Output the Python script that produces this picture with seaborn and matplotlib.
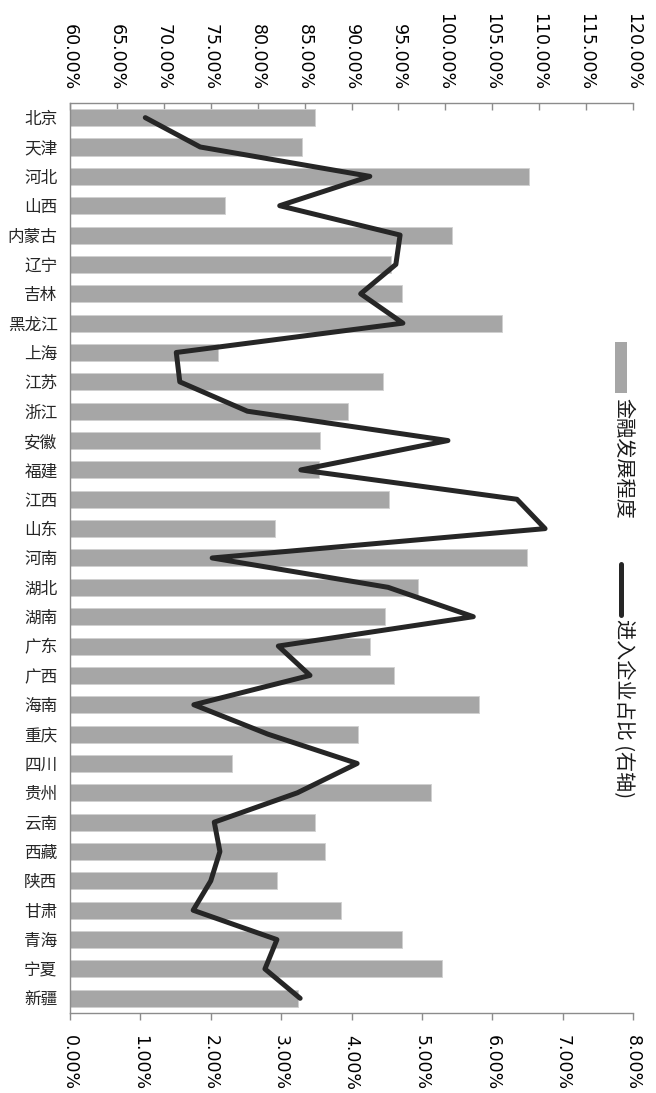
import numpy as np
import pandas as pd
import matplotlib
matplotlib.use("Agg")
import matplotlib.pyplot as plt
import seaborn as sns
from matplotlib.ticker import PercentFormatter, MultipleLocator
from matplotlib.patches import Rectangle
from matplotlib.lines import Line2D

# Provinces, top to bottom
provinces = ["北京", "天津", "河北", "山西", "内蒙古", "辽宁", "吉林", "黑龙江",
             "上海", "江苏", "浙江", "安徽", "福建", "江西", "山东", "河南",
             "湖北", "湖南", "广东", "广西", "海南", "重庆", "四川", "贵州",
             "云南", "西藏", "陕西", "甘肃", "青海", "宁夏", "新疆"]

# Financial development level (%), primary axis (top)
finance_level = [86.1, 84.7, 108.9, 76.5, 100.7, 94.2, 95.4, 106.0,
                 75.8, 93.4, 89.6, 86.6, 86.5, 94.0, 81.8, 108.7,
                 97.1, 93.6, 92.0, 94.5, 103.6, 90.7, 77.3, 98.5,
                 86.1, 87.2, 82.1, 88.9, 95.4, 99.6, 84.3]

# Share of entering firms (%), secondary axis (bottom)
entry_share = [1.07, 1.85, 4.26, 2.98, 4.69, 4.63, 4.13, 4.73,
               1.51, 1.56, 2.52, 5.37, 3.28, 6.35, 6.75, 2.02,
               4.52, 5.73, 2.96, 3.41, 1.76, 2.81, 4.08, 3.23,
               2.05, 2.13, 2.00, 1.75, 2.94, 2.77, 3.27]

legend_labels = ["金融发展程度", "进入企业占比 (右轴)"]

df = pd.DataFrame({"province": provinces,
                   "finance": finance_level,
                   "entry": entry_share,
                   "pos": np.arange(len(provinces))})

sns.set_theme(style="white")
plt.rcParams["font.family"] = ["DejaVu Sans", "Noto Sans CJK SC"]

BAR_COLOR = "#a6a6a6"
LINE_COLOR = "#262626"
AXIS_COLOR = "#8c8c8c"
CJK = ["Noto Sans CJK SC", "DejaVu Sans"]

fig = plt.figure(figsize=(6.56, 10.93), dpi=100)
ax = fig.add_axes([0.1067, 0.0732, 0.8583, 0.8326])

# bars on the primary (top) axis
sns.barplot(data=df, x="finance", y="province", orient="h", color=BAR_COLOR,
            saturation=1, width=0.58, edgecolor="#d0d0d0", linewidth=0.6, ax=ax)
ax.set_xlabel("")
ax.set_ylabel("")

# line on the secondary (bottom) axis
ax2 = ax.twiny()
sns.lineplot(data=df, x="entry", y="pos", sort=False, estimator=None,
             color=LINE_COLOR, linewidth=3.6, ax=ax2)
for ln in ax2.get_lines():
    ln.set_solid_joinstyle("round")
    ln.set_solid_capstyle("round")
ax2.set_xlim(0, 8)
ax2.xaxis.set_major_locator(MultipleLocator(1))
ax2.xaxis.set_major_formatter(PercentFormatter(xmax=100, decimals=2))
ax2.xaxis.set_ticks_position("bottom")
ax2.xaxis.set_label_position("bottom")
ax2.tick_params(axis="x", direction="out", length=5, width=1, color=AXIS_COLOR,
                labelsize=12.5, labelrotation=-90, pad=11, labelcolor="black",
                bottom=True, top=False, labelbottom=True, labeltop=False)
ax2.set_xlabel("")
ax2.set_ylabel("")

# primary axis ticks go to the top (set after twiny, which resets them)
ax.set_xlim(60, 120)
ax.xaxis.set_major_locator(MultipleLocator(5))
ax.xaxis.set_major_formatter(PercentFormatter(xmax=100, decimals=2))
ax.xaxis.set_ticks_position("top")
ax.xaxis.set_label_position("top")
ax.tick_params(axis="x", which="major", direction="in", length=5, width=1,
               color=AXIS_COLOR, labelsize=12.5, labelrotation=-90, pad=9,
               labelcolor="black", top=True, bottom=False,
               labeltop=True, labelbottom=False)
ax.tick_params(axis="y", length=0, pad=9, labelsize=12)
for lbl in ax.get_yticklabels():
    lbl.set_family(CJK)
ax.set_ylim(len(provinces) - 0.5, -0.5)

for name, sp in ax.spines.items():
    sp.set_visible(name in ("top", "left"))
    sp.set_color(AXIS_COLOR)
    sp.set_linewidth(1)
for name, sp in ax2.spines.items():
    sp.set_visible(name == "bottom")
    sp.set_color(AXIS_COLOR)
    sp.set_linewidth(1)

# vertical legend on the right
fig.add_artist(Rectangle((615 / 656, 1 - 393 / 1093), 12 / 656, 51 / 1093,
                         transform=fig.transFigure, color=BAR_COLOR, lw=0))
fig.text(623 / 656, 1 - 398 / 1093, legend_labels[0], rotation=-90,
         ha="center", va="top", fontsize=14.5, family=CJK, color="#1a1a1a")
fig.add_artist(Line2D([621 / 656, 621 / 656], [1 - 564 / 1093, 1 - 615 / 1093],
                      transform=fig.transFigure, color=LINE_COLOR, lw=3.6,
                      solid_capstyle="round"))
fig.text(623 / 656, 1 - 619 / 1093, legend_labels[1], rotation=-90,
         ha="center", va="top", fontsize=14.5, family=CJK, color="#1a1a1a")

fig.savefig("out.png", dpi=100)
